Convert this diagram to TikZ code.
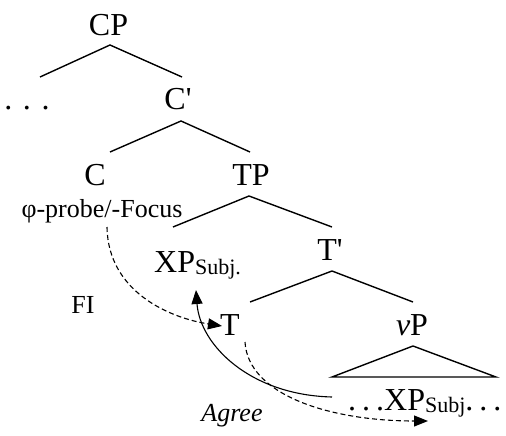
\documentclass[tikz,border=0pt]{standalone}
\usepackage{fontspec}
\setmainfont{Liberation Serif}
\setmonofont{Liberation Serif}
\usetikzlibrary{arrows.meta}
\newcommand{\subsc}[1]{\raisebox{-2.5pt}{\fontsize{22}{24}\selectfont #1}}
\newcommand{\barprime}{{\ttfamily\char"27}}
\newcommand{\tdots}{.\hspace{6pt}.\hspace{6pt}.}
\begin{document}
\begin{tikzpicture}[x=1pt,y=-1pt,
  big/.style={font=\fontsize{32}{34}\selectfont, inner sep=0pt, anchor=base},
  mid/.style={font=\fontsize{26}{28}\selectfont, inner sep=0pt, anchor=base},
  branch/.style={line width=1.4pt},
  arr/.style={line width=1.1pt, -{Triangle[length=14pt,width=11pt]}},
  darr/.style={arr, dash pattern=on 5pt off 3pt}]
\useasboundingbox (0,0) rectangle (506,436);
% labels
\node[big] (CP) at (108.5,36) {CP};
\node[big] (dots) at (27,110) {. . .};
\node[big] (Cbar) at (178,110) {C\barprime};
\node[big] (C) at (95,185) {C};
\node[big] (TP) at (251,185) {TP};
\node[mid] (probe) at (102,217) {φ-probe/-Focus};
\node[big, anchor=base west] (XPs) at (154,272) {XP\subsc{Subj.}};
\node[big] (Tbar) at (330,260) {T\barprime};
\node[mid] (FI) at (83,313) {FI};
\node[big] (T) at (230,335) {T};
\node[big] (vP) at (412,335) {\textit{v}P};
\node[big, anchor=base west] (XPb) at (348,410) {\tdots XP\subsc{Subj}\tdots};
\node[mid] (agree) at (232,421) {\textit{Agree}};
% tree coordinates
\coordinate (cpA) at (110,45);  \coordinate (cpL) at (40,77);  \coordinate (cpR) at (182,77);
\coordinate (cbA) at (181,121); \coordinate (cbL) at (110,152); \coordinate (cbR) at (250,152);
\coordinate (tpA) at (249,196); \coordinate (tpL) at (173,227); \coordinate (tpR) at (332,227);
\coordinate (tbA) at (332,271); \coordinate (tbL) at (250,302); \coordinate (tbR) at (413,302);
\coordinate (vpA) at (413,346); \coordinate (vpL) at (332,377); \coordinate (vpR) at (496,377);
\draw[branch] (cpL) -- (cpA) -- (cpR);
\draw[branch] (cbL) -- (cbA) -- (cbR);
\draw[branch] (tpL) -- (tpA) -- (tpR);
\draw[branch] (tbL) -- (tbA) -- (tbR);
\draw[branch] (vpA) -- (vpL) -- (vpR) -- cycle;
% arrows
\coordinate (fiS) at (107,227); \coordinate (fiE) at (222,326);
\coordinate (agS) at (332,397); \coordinate (agE) at (196,290);
\coordinate (d2S) at (245,342); \coordinate (d2E) at (428,421);
\draw[darr] (fiS) .. controls (108,292) and (170,318) .. (fiE);
\draw[arr] (agS) .. controls (250,395) and (200,345) .. (agE);
\draw[darr] (d2S) .. controls (248,395) and (330,421) .. (d2E);
\end{tikzpicture}
\end{document}
